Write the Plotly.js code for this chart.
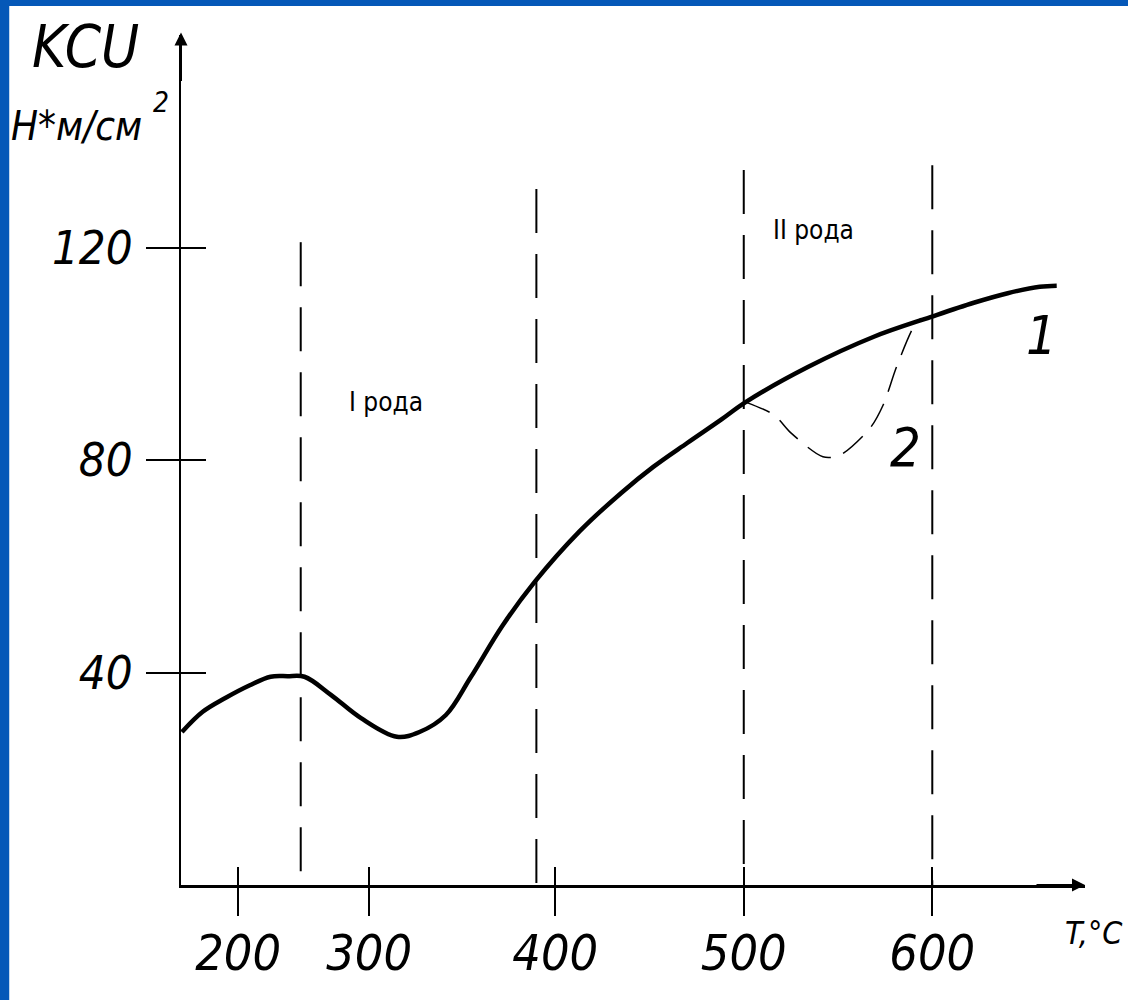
<!DOCTYPE html>
<html>
<head>
<meta charset="utf-8">
<script src="https://cdn.plot.ly/plotly-3.0.1.min.js"></script>
<style>html,body{margin:0;padding:0;background:#0558b8;}</style>
</head>
<body>
<div id="chart" style="width:1128px;height:1000px;"></div>
<script>
// Curve 1: KCU vs tempering temperature
const curve1T   = [202, 213, 225, 238, 249, 258, 267, 281, 297, 316, 328, 342, 355, 372, 389, 413, 435, 452, 470, 488, 501, 534, 569, 599, 622, 640, 657, 666];
const curve1KCU = [28.8, 32.6, 35.2, 37.6, 39.2, 39.3, 39.2, 35.8, 31.4, 27.9, 28.8, 32.0, 39.0, 48.8, 57.0, 66.6, 73.8, 78.7, 83.2, 87.6, 90.9, 97.5, 103.2, 106.9, 109.6, 111.4, 112.6, 112.8];
// Curve 2: dip (temper brittleness of the 2nd kind)
const curve2T   = [501, 516, 525, 542, 551, 567, 574, 581, 590, 594];
const curve2KCU = [90.9, 88.5, 85.1, 80.6, 80.9, 86.0, 90.4, 97.5, 105.0, 106.7];
// Dashed boundary lines
const boundaryT   = [265, 390, 500, 600];
const boundaryTop = [121, 131, 134.6, 135.5];
// Ticks
const xTickVals = [231.8, 301.3, 400, 500, 600];
const xTickText = ['200', '300', '400', '500', '600'];
const yTickVals = [40, 80, 120];
const yTickText = ['40', '80', '120'];
// Labels
const curveLabels = [{t: 658, v: 103.5, text: '1'}, {t: 586, v: 82.3, text: '2'}];
const zoneLabels  = [{t: 310, v: 91, text: 'I рода'}, {t: 537, v: 123.3, text: 'II рода'}];

const FONT = "'Liberation Sans Narrow', 'Arial Narrow', 'DejaVu Sans Condensed', sans-serif";
const xRange = [201.5, 681];
const yRange = [0, 160];

const traces = [];
boundaryT.forEach((t, i) => {
  traces.push({
    type: 'scatter', mode: 'lines', x: [t, t], y: [boundaryTop[i], 0],
    line: {color: '#000', width: 2, dash: '44px,21px'}, hoverinfo: 'skip'
  });
});
traces.push({
  type: 'scatter', mode: 'lines', x: curve2T, y: curve2KCU, xaxis: 'x2', yaxis: 'y2',
  line: {color: '#000', width: 1.5, dash: '26px,13px', shape: 'spline', smoothing: 0.8}
});
traces.push({
  type: 'scatter', mode: 'lines', x: curve1T, y: curve1KCU,
  line: {color: '#000', width: 4.5, shape: 'spline', smoothing: 1}
});

const annotations = [];
curveLabels.forEach(l => annotations.push({
  x: l.t, y: l.v, xref: 'x', yref: 'y', text: l.text, showarrow: false,
  xanchor: 'center', yanchor: 'middle',
  font: {family: FONT, size: 54, style: 'italic', color: '#000'}
}));
zoneLabels.forEach(l => annotations.push({
  x: l.t, y: l.v, xref: 'x', yref: 'y', text: l.text, showarrow: false,
  xanchor: 'center', yanchor: 'middle',
  font: {family: FONT, size: 26, color: '#000'}
}));
annotations.push(
  {xref: 'paper', yref: 'paper', x: -0.106, y: 0.986, xanchor: 'center', yanchor: 'middle',
   text: 'KCU', showarrow: false,
   font: {family: FONT, size: 58, style: 'italic', color: '#000'}},
  {xref: 'paper', yref: 'paper', x: -0.116, y: 0.893, xanchor: 'center', yanchor: 'middle',
   text: 'Н*м/см', showarrow: false,
   font: {family: FONT, size: 40, style: 'italic', color: '#000'}},
  {xref: 'paper', yref: 'paper', x: -0.022, y: 0.920, xanchor: 'center', yanchor: 'middle',
   text: '2', showarrow: false,
   font: {family: FONT, size: 28, style: 'italic', color: '#000'}},
  {xref: 'paper', yref: 'paper', x: 0.976, y: -0.056, xanchor: 'left', yanchor: 'middle',
   text: 'T,°C', showarrow: false,
   font: {family: FONT, size: 32, style: 'italic', color: '#000'}},
  {xref: 'paper', yref: 'paper', x: 0, y: 1.003, ax: 0, ay: 50, text: '', showarrow: true,
   arrowhead: 2, arrowsize: 1.3, arrowwidth: 2, arrowcolor: '#000', standoff: 0},
  {xref: 'paper', yref: 'paper', x: 1.0, y: 0, ax: -50, ay: 0, text: '', showarrow: true,
   arrowhead: 2, arrowsize: 1.3, arrowwidth: 2, arrowcolor: '#000', standoff: 0}
);

const axBase = {showgrid: false, zeroline: false, fixedrange: true, tickcolor: '#000', tickwidth: 2};
const layout = {
  width: 1128, height: 1000,
  paper_bgcolor: '#0558b8', plot_bgcolor: '#ffffff',
  margin: {l: 181, r: 43, t: 35, b: 115, pad: 0},
  showlegend: false,
  xaxis: Object.assign({}, axBase, {
    range: xRange, tickmode: 'array', tickvals: xTickVals, ticktext: xTickText,
    ticks: 'outside', ticklen: 28, showline: true, linecolor: '#000', linewidth: 2.5,
    ticklabelstandoff: -6,
    tickfont: {family: FONT, size: 50, style: 'italic', color: '#000'}
  }),
  yaxis: Object.assign({}, axBase, {
    range: yRange, tickmode: 'array', tickvals: yTickVals, ticktext: yTickText,
    ticks: 'outside', ticklen: 33, showline: true, linecolor: '#000', linewidth: 2,
    ticklabelstandoff: 4,
    tickfont: {family: FONT, size: 47, style: 'italic', color: '#000'}
  }),
  xaxis2: Object.assign({}, axBase, {
    overlaying: 'x', anchor: 'y2', side: 'bottom', range: xRange,
    tickmode: 'array', tickvals: xTickVals, ticks: 'inside', ticklen: 18,
    showticklabels: false, showline: false
  }),
  yaxis2: Object.assign({}, axBase, {
    overlaying: 'y', anchor: 'x2', side: 'left', range: yRange,
    tickmode: 'array', tickvals: yTickVals, ticks: 'inside', ticklen: 25,
    showticklabels: false, showline: false
  }),
  shapes: [{type: 'rect', xref: 'paper', yref: 'paper', x0: -0.19, x1: 1.1, y0: -0.2, y1: 1.034,
            fillcolor: '#ffffff', line: {width: 0}, layer: 'below'}],
  annotations: annotations
};

Plotly.newPlot('chart', traces, layout, {displayModeBar: false, staticPlot: true});
</script>
</body>
</html>
